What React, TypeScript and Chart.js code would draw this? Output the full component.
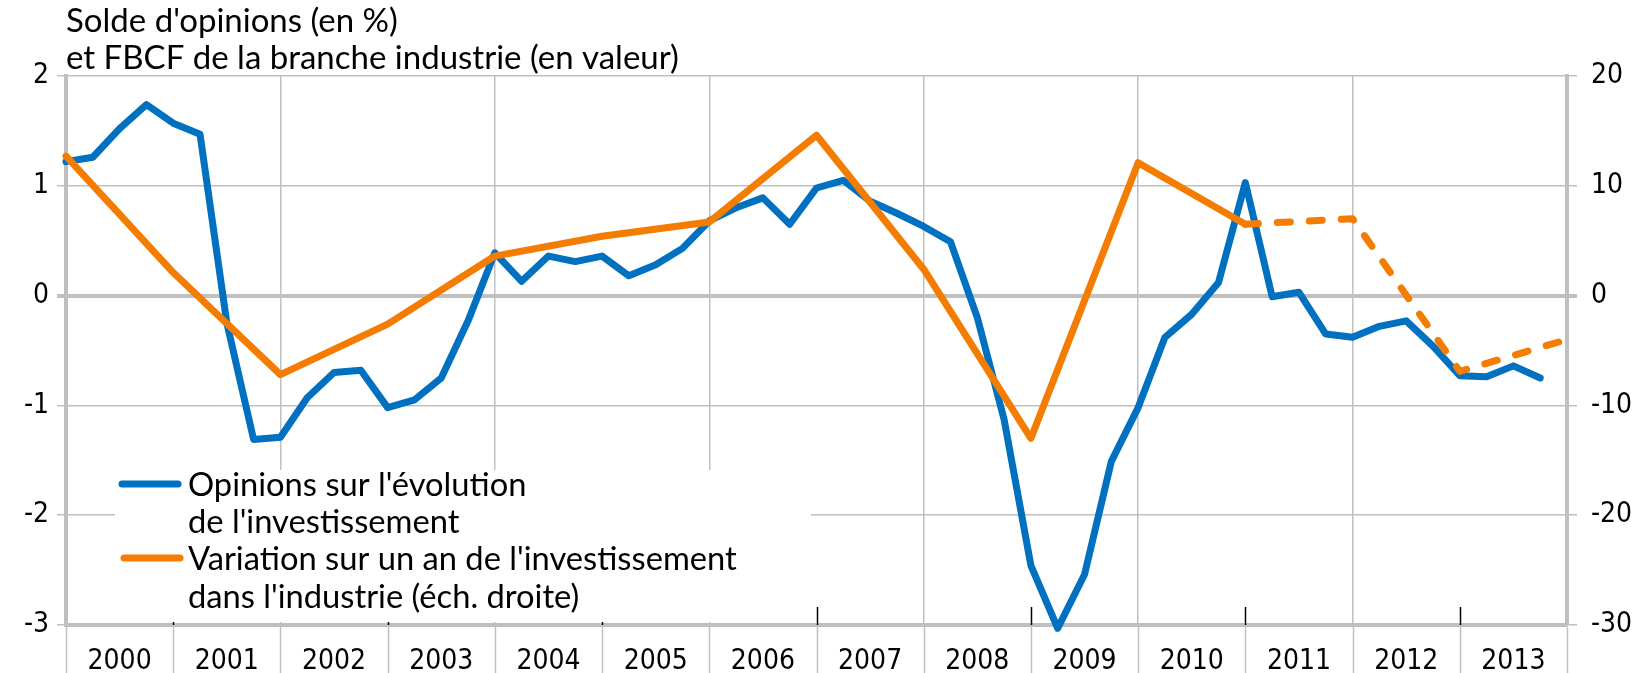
import React, { useEffect, useRef } from 'react';
import { Chart, registerables } from 'chart.js';

Chart.register(...registerables);

// ---------- Data ----------
const yearLabels = ['2000', '2001', '2002', '2003', '2004', '2005', '2006', '2007', '2008', '2009', '2010', '2011', '2012', '2013'];

// Quarterly balance of opinions (left axis), Q1..Q4 for each year
const opinionValues = [
  1.22, 1.26, 1.52, 1.74,
  1.57, 1.47, -0.25, -1.31,
  -1.29, -0.93, -0.70, -0.68,
  -1.02, -0.95, -0.75, -0.23,
  0.39, 0.13, 0.36, 0.31,
  0.36, 0.18, 0.28, 0.43,
  0.68, 0.80, 0.89, 0.65,
  0.98, 1.05, 0.86, 0.75,
  0.63, 0.49, -0.20, -1.13,
  -2.46, -3.03, -2.54, -1.51,
  -1.02, -0.38, -0.17, 0.12,
  1.03, -0.01, 0.03, -0.35,
  -0.38, -0.28, -0.23, -0.46,
  -0.73, -0.74, -0.64, -0.75,
];

// Annual change of investment (right axis)
const fbcfYears = [2000, 2001, 2002, 2003, 2004, 2005, 2006, 2007, 2008, 2009, 2010, 2011, 2012, 2013, 2014];
const fbcfValues = [12.7, 2.1, -7.2, -2.6, 3.6, 5.4, 6.7, 14.6, 2.4, -13.0, 12.1, 6.5, 7.0, -6.9, -4.0];
const forecastFromYear = 2011;

const leftTicks = [-3, -2, -1, 0, 1, 2];
const rightTicks = [-30, -20, -10, 0, 10, 20];
const markedYears = [2001, 2003, 2005, 2007, 2009, 2011, 2013];

const titleLines = ["Solde d'opinions (en %)", 'et FBCF de la branche industrie (en valeur)'];
const legendOpinion = ["Opinions sur l'évolution", "de l'investissement"];
const legendFbcf = ["Variation sur un an de l'investissement", "dans l'industrie (éch. droite)"];

// ---------- Styles ----------
const BLUE = '#0070C0';
const ORANGE = '#F47C00';
const GRID = '#C0C0C0';
const AXIS = '#BFBFBF';
const TEXT_FONT = 'Lato, "Noto Sans", sans-serif';
const NUM_FONT = '"Liberation Sans Narrow", "Arial Narrow", "DejaVu Sans Condensed", sans-serif';

export default function App() {
  const canvasRef = useRef<HTMLCanvasElement | null>(null);

  useEffect(() => {
    document.body.style.margin = '0';
    const canvas = canvasRef.current;
    if (!canvas) return;

    const opinionPoints = opinionValues.map((v, i) => ({
      x: Number(yearLabels[Math.floor(i / 4)]) + (i % 4) / 4,
      y: v,
    }));
    const fbcfPoints = fbcfYears.map((yr, i) => ({ x: yr, y: fbcfValues[i] }));

    const overlay = {
      id: 'overlay',
      beforeDraw(chart: any) {
        const c = chart.ctx;
        c.save();
        c.fillStyle = '#ffffff';
        c.fillRect(0, 0, chart.width, chart.height);
        c.restore();
      },
      afterDatasetsDraw(chart: any) {
        const c = chart.ctx;
        const xs = chart.scales.x;
        const area = chart.chartArea;
        c.save();
        // small black ticks above the axis
        c.strokeStyle = '#000';
        c.lineWidth = 1.5;
        markedYears.forEach((yr) => {
          const px = Math.round(xs.getPixelForValue(yr)) + 0.5;
          c.beginPath();
          c.moveTo(px, area.bottom - 18);
          c.lineTo(px, area.bottom);
          c.stroke();
        });
        c.restore();
      },
      afterDraw(chart: any) {
        const c = chart.ctx;
        const xs = chart.scales.x;
        const area = chart.chartArea;
        c.save();

        // separators under the x axis
        c.strokeStyle = GRID;
        c.lineWidth = 1.5;
        for (let yr = 2000; yr <= 2014; yr++) {
          const px = Math.round(xs.getPixelForValue(yr)) + 0.5;
          c.beginPath();
          c.moveTo(px, area.bottom + 2);
          c.lineTo(px, chart.height);
          c.stroke();
        }

        // year labels centred in each year
        c.fillStyle = '#000';
        c.font = `28px ${NUM_FONT}`;
        c.textAlign = 'center';
        c.textBaseline = 'middle';
        yearLabels.forEach((lab) => {
          const px = xs.getPixelForValue(Number(lab) + 0.5);
          c.fillText(lab, px, area.bottom + 37);
        });

        // title
        c.textAlign = 'left';
        c.textBaseline = 'alphabetic';
        c.font = `33px ${TEXT_FONT}`;
        c.fillText(titleLines[0], area.left, 32);
        c.fillText(titleLines[1], area.left, 69);

        // legend box
        c.fillStyle = '#ffffff';
        c.fillRect(115, 470, 696, 152);

        c.lineCap = 'round';
        c.lineWidth = 7;
        c.strokeStyle = BLUE;
        c.beginPath();
        c.moveTo(122, 484);
        c.lineTo(178, 484);
        c.stroke();
        c.strokeStyle = ORANGE;
        c.beginPath();
        c.moveTo(124, 558);
        c.lineTo(180, 558);
        c.stroke();

        c.fillStyle = '#000';
        c.font = `32.7px ${TEXT_FONT}`;
        c.textBaseline = 'middle';
        c.fillText(legendOpinion[0], 188, 485);
        c.fillText(legendOpinion[1], 188, 522);
        c.fillText(legendFbcf[0], 188, 559);
        c.fillText(legendFbcf[1], 188, 597);

        c.restore();
      },
    };

    const chart = new Chart(canvas, {
      type: 'line',
      data: {
        datasets: [
          {
            label: legendFbcf.join(' '),
            data: fbcfPoints,
            yAxisID: 'y1',
            borderColor: ORANGE,
            borderWidth: 7,
            pointRadius: 0,
            tension: 0,
            borderJoinStyle: 'round',
            borderCapStyle: 'round',
            clip: 12,
            segment: {
              borderDash: (ctx: any) => (ctx.p0.parsed.x >= forecastFromYear ? [13, 19] : undefined),
            },
          },
          {
            label: legendOpinion.join(' '),
            data: opinionPoints,
            yAxisID: 'y',
            borderColor: BLUE,
            borderWidth: 7,
            pointRadius: 0,
            tension: 0,
            borderJoinStyle: 'round',
            borderCapStyle: 'round',
            clip: 12,
          },
        ],
      },
      options: {
        responsive: false,
        animation: false,
        devicePixelRatio: 1,
        layout: { padding: { top: 76, left: 0, right: 0, bottom: 0 } },
        plugins: {
          legend: { display: false },
          tooltip: { enabled: false },
          title: { display: false },
        },
        scales: {
          x: {
            type: 'linear',
            min: 2000,
            max: 2014,
            afterBuildTicks: (s: any) => {
              s.ticks = fbcfYears.map((v) => ({ value: v }));
            },
            ticks: { display: false },
            grid: {
              drawTicks: false,
              color: (ctx: any) =>
                ctx.tick && ctx.tick.value % 2 === 0 && ctx.tick.value > 2000 && ctx.tick.value < 2014
                  ? GRID
                  : 'rgba(0,0,0,0)',
              lineWidth: 1.5,
            },
            border: { color: AXIS, width: 4 },
            afterFit: (s: any) => {
              s.height = 48;
            },
          },
          y: {
            position: 'left',
            min: -3,
            max: 2,
            afterBuildTicks: (s: any) => {
              s.ticks = leftTicks.map((v) => ({ value: v }));
            },
            ticks: {
              color: '#000',
              padding: 8,
              font: { family: NUM_FONT, size: 28 },
              callback: (v: any) => String(v),
            },
            grid: {
              color: GRID,
              lineWidth: (ctx: any) => (ctx.tick && ctx.tick.value === 0 ? 4 : 1.5),
              tickLength: 9,
            },
            border: { color: AXIS, width: 4 },
            afterFit: (s: any) => {
              s.width = 66;
            },
          },
          y1: {
            position: 'right',
            min: -30,
            max: 20,
            afterBuildTicks: (s: any) => {
              s.ticks = rightTicks.map((v) => ({ value: v }));
            },
            ticks: {
              color: '#000',
              padding: 14,
              font: { family: NUM_FONT, size: 28 },
              callback: (v: any) => String(v),
            },
            grid: {
              drawOnChartArea: false,
              color: GRID,
              lineWidth: (ctx: any) => (ctx.tick && ctx.tick.value === 0 ? 4 : 1.5),
              tickLength: 10,
            },
            border: { color: AXIS, width: 4 },
            afterFit: (s: any) => {
              s.width = 74;
            },
          },
        },
      },
      plugins: [overlay],
    } as any);

    return () => {
      chart.destroy();
    };
  }, []);

  return (
    <div style={{ width: 1641, height: 673 }}>
      <canvas ref={canvasRef} width={1641} height={673} style={{ display: 'block' }} />
    </div>
  );
}
